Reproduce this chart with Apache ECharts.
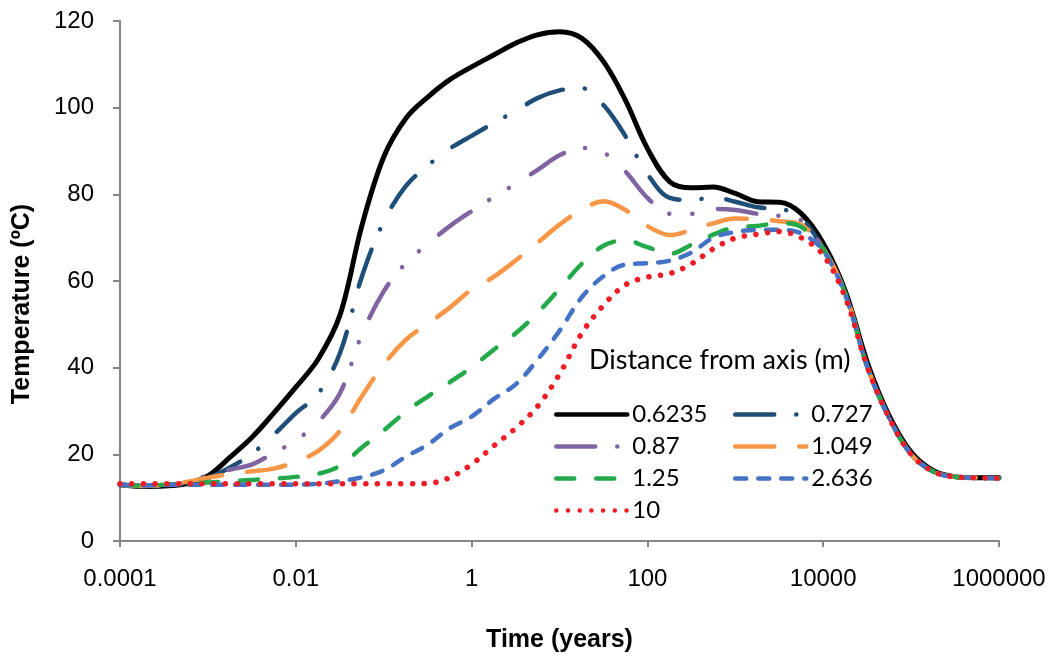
<!DOCTYPE html>
<html style="height: 100%">
<head>
  <meta charset="utf-8">
</head>
<body style="height: 100%; margin: 0; background: #fff">
  <div id="container" style="width: 1052px; height: 662px"></div>
  <script type="text/javascript" src="https://fastly.jsdelivr.net/npm/echarts@6.0.0/dist/echarts.min.js"></script>
  <script type="text/javascript">
// time samples (years), quarter-decade steps
var times = [0.0001, 0.00018, 0.00032, 0.00056, 0.001, 0.0018, 0.0032, 0.0056,
  0.01, 0.018, 0.032, 0.056, 0.1, 0.18, 0.32, 0.56, 1, 1.8, 3.2, 5.6,
  10, 18, 32, 56, 100, 180, 320, 560, 1000, 1800, 3200, 5600,
  10000, 18000, 32000, 56000, 100000, 180000, 320000, 560000, 1000000];

// temperature (ºC) for each distance from axis
var t0_6235 = [13.0, 12.6, 12.7, 13.2, 15.0, 19.4, 24.0, 29.5, 35.5, 42.0, 52.3, 72.5, 88.6, 97.6, 102.5, 106.4,
  109.4, 112.2, 114.9, 116.8, 117.5, 116.0, 110.5, 101.8, 90.6, 82.9, 81.5, 81.7, 80.2, 78.3, 78.2, 75.6,
  68.7, 57.5, 41.0, 29.0, 20.5, 16.2, 14.8, 14.6, 14.6];
var t0_727 = [13.0, 12.7, 12.7, 13.2, 14.5, 17.0, 20.2, 24.5, 29.5, 34.0, 43.5, 60.8, 73.7, 82.0, 86.7, 90.5,
  93.5, 96.5, 99.3, 102.2, 104.0, 104.5, 100.5, 93.5, 84.7, 79.2, 78.7, 79.3, 78.3, 77.0, 76.7, 74.5,
  67.5, 57.0, 40.0, 28.5, 20.0, 16.0, 14.8, 14.6, 14.5];
var t0_87 = [13.0, 12.8, 12.8, 13.5, 15.2, 16.5, 17.7, 20.3, 23.2, 27.5, 34.2, 47.5, 57.6, 64.2, 68.6, 72.6,
  76.1, 79.4, 82.5, 85.6, 89.0, 90.7, 89.6, 85.3, 79.2, 75.5, 75.5, 76.6, 76.4, 75.5, 75.0, 74.0,
  67.5, 57.0, 40.0, 28.5, 20.0, 16.0, 14.8, 14.6, 14.5];
var t1_049 = [13.0, 12.7, 13.0, 13.6, 14.6, 15.5, 16.1, 16.7, 18.3, 20.8, 25.5, 33.3, 40.7, 46.5, 50.2, 53.8,
  58.0, 61.0, 64.8, 68.8, 73.0, 76.5, 78.4, 76.4, 72.7, 70.6, 71.8, 73.3, 74.4, 74.3, 73.8, 73.0,
  67.5, 57.0, 40.0, 28.5, 20.0, 16.0, 14.8, 14.6, 14.5];
var t1_25 = [13.0, 12.8, 13.0, 13.2, 13.5, 13.8, 14.1, 14.4, 14.8, 15.5, 17.4, 21.5, 25.5, 29.9, 33.4, 36.6,
  40.1, 44.2, 48.0, 52.6, 58.2, 64.0, 68.2, 69.4, 67.8, 66.3, 68.4, 70.7, 72.4, 72.7, 73.4, 72.5,
  67.3, 57.0, 40.0, 28.5, 20.0, 16.0, 14.8, 14.6, 14.5];
var t2_636 = [13.0, 12.8, 12.9, 13.0, 13.0, 13.0, 13.0, 13.0, 13.0, 13.2, 13.8, 14.7, 16.3, 19.5, 22.3, 26.0,
  28.7, 32.8, 36.2, 41.8, 48.5, 56.3, 61.2, 63.8, 64.1, 64.7, 66.6, 70.0, 71.3, 71.8, 71.8, 71.0,
  67.0, 56.5, 40.0, 28.5, 20.0, 16.0, 14.8, 14.6, 14.5];
var t10 = [13.2, 13.2, 13.2, 13.2, 13.2, 13.2, 13.2, 13.2, 13.2, 13.2, 13.2, 13.2, 13.2, 13.2, 13.3, 14.6,
  17.7, 22.0, 26.1, 31.0, 38.5, 48.0, 54.5, 59.1, 60.9, 61.7, 64.0, 67.4, 69.9, 70.8, 71.4, 70.0,
  66.0, 56.0, 40.0, 28.5, 20.0, 16.0, 14.8, 14.6, 14.5];

var xTickLabels = ['0.0001', '0.01', '1', '100', '10000', '1000000'];
var yTicks = { min: 0, max: 120, step: 20 };

var dom = document.getElementById('container');
var myChart = echarts.init(dom, null, { renderer: 'canvas' });

function pairs(ys) {
  return times.map(function (t, i) { return [t, ys[i]]; });
}

function line(name, ys, color, width, dash) {
  return {
    name: name,
    type: 'line',
    data: pairs(ys),
    symbol: 'none',
    smooth: 0.35,
    itemStyle: { color: color },
    lineStyle: { color: color, width: width, type: dash, cap: 'round', join: 'round' }
  };
}

var legendText = { fontFamily: 'Lato', fontSize: 24, color: '#000', lineHeight: 25 };
var axisFont = 'Liberation Sans, Arial, sans-serif';

function legendCol(names, left) {
  return {
    data: names,
    orient: 'vertical',
    left: left, top: 397,
    itemWidth: 71, itemHeight: 14, itemGap: 7,
    selectedMode: false,
    itemStyle: { opacity: 0 },
    lineStyle: { width: 4.5 },
    textStyle: legendText
  };
}

var option = {
  backgroundColor: '#fff',
  animation: false,
  grid: { left: 120, right: 53, top: 21, bottom: 121 },
  xAxis: {
    type: 'log',
    logBase: 100,
    min: 0.0001,
    max: 1000000,
    name: 'Time (years)',
    nameLocation: 'middle',
    nameGap: 87,
    nameTextStyle: { fontFamily: axisFont, fontSize: 25, fontWeight: 'bold', color: '#000' },
    axisLine: { show: true, lineStyle: { color: '#868686', width: 2 } },
    axisTick: { show: true, length: 6, lineStyle: { color: '#868686', width: 2 } },
    minorTick: { show: false },
    splitLine: { show: false },
    axisLabel: {
      margin: 26,
      fontFamily: axisFont,
      fontSize: 24,
      color: '#000',
      showMinLabel: true,
      showMaxLabel: true,
      formatter: function (value, index) { return xTickLabels[index]; }
    }
  },
  yAxis: {
    type: 'value',
    min: yTicks.min,
    max: yTicks.max,
    interval: yTicks.step,
    axisLine: { show: true, lineStyle: { color: '#868686', width: 2 } },
    axisTick: { show: true, length: 7, lineStyle: { color: '#868686', width: 2 } },
    splitLine: { show: false },
    axisLabel: { margin: 26, fontFamily: axisFont, fontSize: 24, color: '#000' }
  },
  graphic: [
    {
      type: 'text',
      x: 22, y: 304,
      rotation: Math.PI / 2,
      style: {
        text: 'Temperature (ºC)',
        fontFamily: axisFont, fontSize: 25, fontWeight: 'bold', fill: '#000',
        textAlign: 'center', textVerticalAlign: 'middle'
      }
    },
    {
      type: 'text',
      left: 589, top: 347,
      style: { text: 'Distance from axis (m)', fontFamily: 'Lato', fontSize: 27, fill: '#000' }
    }
  ],
  legend: [
    legendCol(['0.6235', '0.87', '1.25', '10'], 549),
    legendCol(['0.727', '1.049', '2.636'], 728)
  ],
  series: [
    line('0.6235', t0_6235, '#000000', 5, 'solid'),
    line('0.727', t0_727, '#1f4e79', 4.5, [39, 22, 0.1, 25]),
    line('0.87', t0_87, '#8064a2', 4.5, [39, 22, 0.1, 23, 0.1, 26]),
    line('1.049', t1_049, '#f79646', 4.5, [39, 25]),
    line('1.25', t1_25, '#22a94a', 4.5, [18, 22]),
    line('2.636', t2_636, '#4472c4', 4.5, [11, 12]),
    line('10', t10, '#ee1c25', 5.5, [0.1, 11.6])
  ]
};

if (option && typeof option === 'object') {
  myChart.setOption(option);
}

window.addEventListener('resize', myChart.resize);
  </script>
</body>
</html>
